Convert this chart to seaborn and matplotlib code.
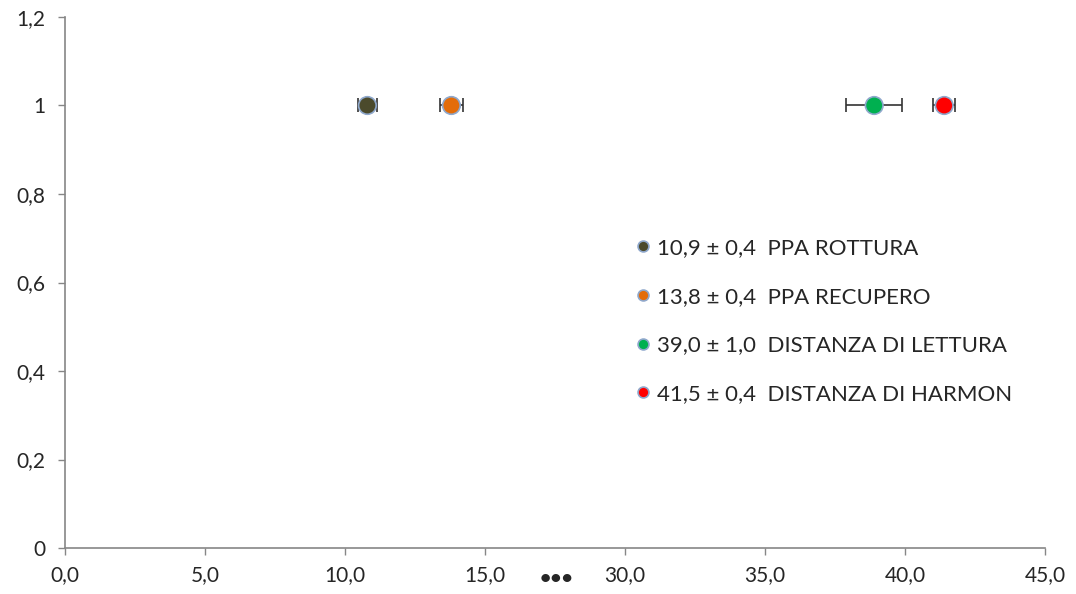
import numpy as np
import pandas as pd
import matplotlib
matplotlib.use('Agg')
import matplotlib.pyplot as plt
import seaborn as sns

#-----------data-------------------
names = ['PPA ROTTURA', 'PPA RECUPERO', 'DISTANZA DI LETTURA', 'DISTANZA DI HARMON']
values = [10.8, 13.8, 38.9, 41.4]
errors = [0.35, 0.4, 1.0, 0.4]
shown = ['10,9 ± 0,4', '13,8 ± 0,4', '39,0 ± 1,0', '41,5 ± 0,4']
level = [1, 1, 1, 1]
palette = ['#4b4a2c', '#e36c09', '#00b050', '#ff0000']

xticks_real = [0, 5, 10, 15, 30, 35, 40, 45]
yticks = [0, 0.2, 0.4, 0.6, 0.8, 1.0, 1.2]
ylabels = ['0', '0,2', '0,4', '0,6', '0,8', '1', '1,2']

# broken axis: 15 .. 30 is squeezed into 5 units
def squeeze(v):
    return v if v <= 15 else v - 10

df = pd.DataFrame({'x': [squeeze(v) for v in values], 'y': level,
                   'lab': [s + '  ' + n for s, n in zip(shown, names)]})

#-----------plot-------------------
sns.set_style('white')
plt.rcParams['font.family'] = ['Lato', 'DejaVu Sans']

fig = plt.figure(figsize=(10.76, 5.94), dpi=100)
ax = fig.add_axes([0.0604, 0.0774, 0.9108, 0.894])

ax.errorbar(df['x'], df['y'], xerr=errors, fmt='none', ecolor='#333333',
            elinewidth=1.2, capsize=5, capthick=1.2, zorder=2)
sns.scatterplot(data=df, x='x', y='y', hue='lab', palette=palette, s=160,
                edgecolor='#8fa8cc', linewidth=1.2, ax=ax, zorder=3)

ax.set_xlim(0, 35)
ax.set_ylim(0, 1.2)
ax.set_xticks([squeeze(v) for v in xticks_real])
ax.set_xticklabels(['{:.1f}'.format(v).replace('.', ',') for v in xticks_real])
ax.set_yticks(yticks)
ax.set_yticklabels(ylabels)
ax.set_xlabel('')
ax.set_ylabel('')
ax.tick_params(axis='both', labelsize=15, length=5, width=1, color='#868686',
               direction='out', bottom=True, left=True)
ax.tick_params(axis='x', pad=7)
ax.tick_params(axis='y', pad=9)
for side in ['top', 'right']:
    ax.spines[side].set_visible(False)
for side in ['left', 'bottom']:
    ax.spines[side].set_color('#868686')
    ax.spines[side].set_linewidth(1.2)

ax.text(17.55, -0.068, '•••', ha='center', va='center', fontsize=14,
        fontweight='bold', transform=ax.transData, clip_on=False)

leg = ax.legend(loc='upper left', bbox_to_anchor=(0.558, 0.621), frameon=False,
                fontsize=16, labelspacing=1.29, handletextpad=0.15,
                markerscale=0.62, handlelength=1.0)
for h in leg.legend_handles:
    h.set_markeredgecolor('#8fa8cc')

fig.savefig('out.png', dpi=100)
